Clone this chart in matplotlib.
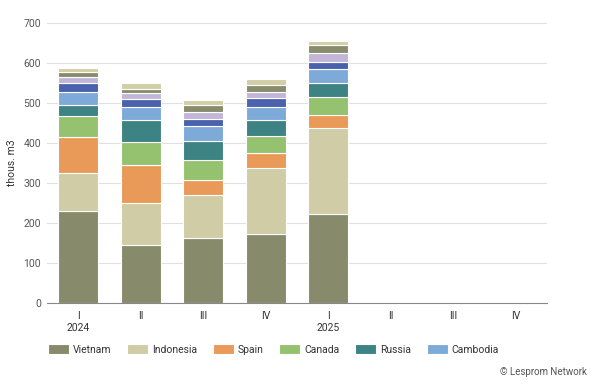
import matplotlib
matplotlib.use("Agg")
import matplotlib.pyplot as plt
import numpy as np

plt.rcParams["font.family"] = ["Roboto", "DejaVu Sans"]

quarters = ["I\n2024", "II", "III", "IV", "I\n2025", "II", "III", "IV"]
nan = np.nan
# thous. m3 per quarter, bottom to top
vietnam   = [230, 144, 163, 173, 222, nan, nan, nan]
indonesia = [96, 105, 108, 165, 216, nan, nan, nan]
spain     = [88, 95, 36, 38, 33, nan, nan, nan]
canada    = [53, 59, 50, 42, 44, nan, nan, nan]
russia    = [29, 55, 49, 39, 35, nan, nan, nan]
cambodia  = [32, 32, 36, 34, 36, nan, nan, nan]
series7   = [23, 19, 19, 21, 17, nan, nan, nan]
series8   = [13, 16, 16, 16, 23, nan, nan, nan]
series9   = [13, 11, 17, 17, 18, nan, nan, nan]
series10  = [10, 13, 13, 14, 10, nan, nan, nan]

names = ["Vietnam", "Indonesia", "Spain", "Canada", "Russia", "Cambodia",
         "s7", "s8", "s9", "s10"]
values = [vietnam, indonesia, spain, canada, russia, cambodia,
          series7, series8, series9, series10]
colors = ["#878a6b", "#cfcca6", "#e99a58", "#95c26f", "#3d8384", "#7eaad9",
          "#4a62ad", "#c2b5d8", "#898b6d", "#d2cea6"]

fig = plt.figure(figsize=(6, 3.84), dpi=100)
ax = fig.add_axes([0.078, 0.211, 0.834, 0.729])

x = np.arange(len(quarters))
bottom = np.zeros(len(quarters))
handles = []
for name, vals, c in zip(names, values, colors):
    v = np.array(vals, dtype=float)
    b = ax.bar(x, np.nan_to_num(v), bottom=bottom, width=0.64, color=c,
               edgecolor="white", linewidth=0.8, label=name)
    handles.append(b)
    bottom += np.nan_to_num(v)

ax.set_xlim(-0.5, len(quarters) - 0.5)
ax.set_ylim(0, 700)
ax.set_yticks(range(0, 701, 100))
ax.set_xticks(x)
ax.set_xticklabels(quarters)
ax.grid(axis="y", color="#e0e0e0", linewidth=0.8)
ax.set_axisbelow(True)
for s in ["top", "right", "left"]:
    ax.spines[s].set_visible(False)
ax.spines["bottom"].set_color("#888888")
ax.tick_params(axis="y", length=0, labelsize=7.5, labelcolor="#555555", pad=4)
ax.tick_params(axis="x", length=0, labelsize=7.5, labelcolor="#333333", pad=6)
ax.set_ylabel("thous. m3", fontsize=7.5, color="#333333", labelpad=5)

fig.legend(handles[:6], names[:6], loc="center left", bbox_to_anchor=(0.08, 0.09),
           ncol=6, frameon=False, fontsize=7.5, handlelength=2.0, handleheight=1.1,
           columnspacing=1.5, handletextpad=0.4, labelcolor="#333333",
           borderaxespad=0, borderpad=0)
fig.text(0.978, 0.03, "© Lesprom Network", ha="right", va="center",
         fontsize=7, color="#555555")

fig.savefig("out.png", dpi=100)
